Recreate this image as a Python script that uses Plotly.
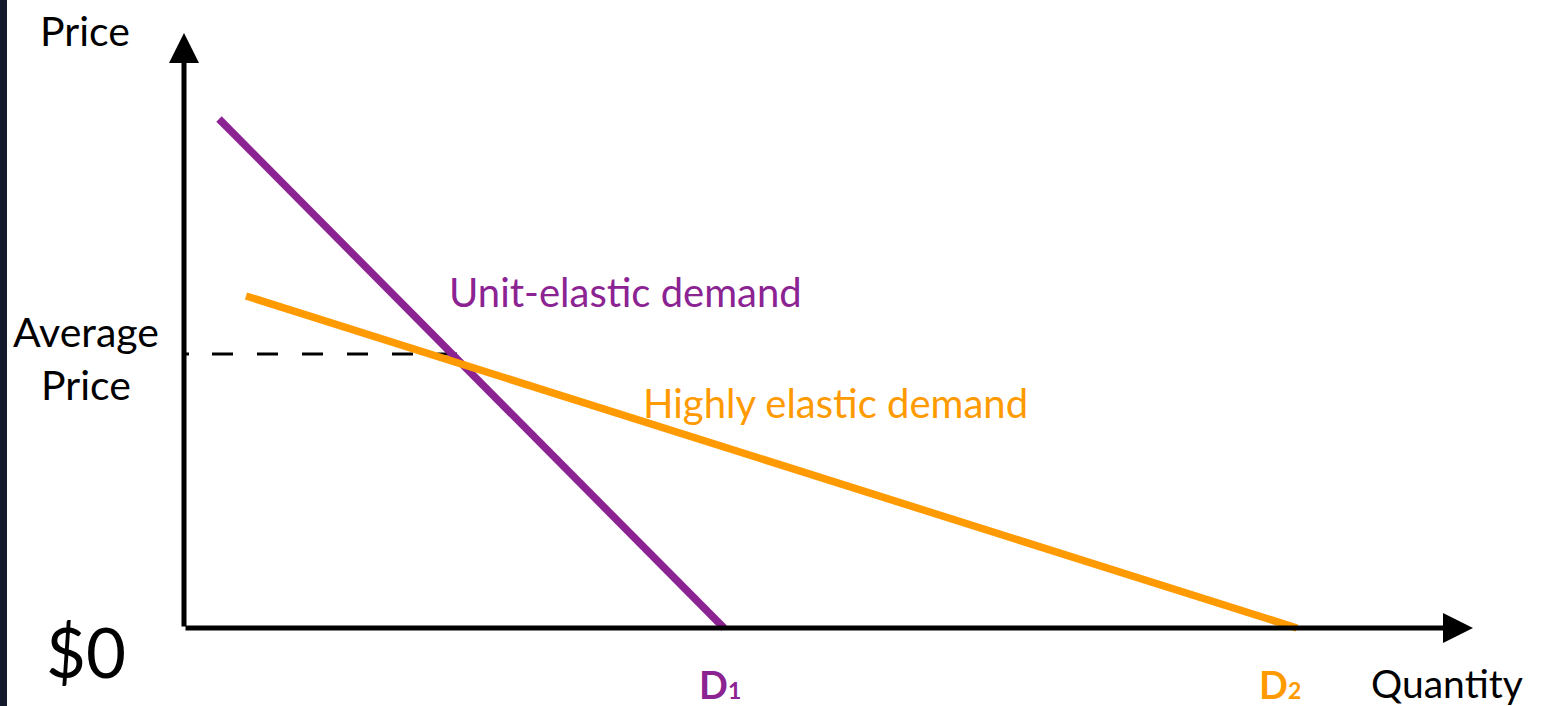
import plotly.graph_objects as go

# Demand schedules (quantity, price) in chart units
unit_q = [3.5, 54.0]
unit_p = [50.9, 0.0]
elastic_q = [6.2, 111.3]
elastic_p = [33.2, 0.0]
avg_price = 27.4
avg_q_end = 27.3

# Axis extents
x_origin, y_origin = 0.0, 0.0
x_tip, y_tip = 128.9, 59.5

PURPLE = "#8C2393"
ORANGE = "#FF9A00"
FONT = "Lato"
NJ = "\u200c"  # keeps "t" and "i" as separate glyphs

fig = go.Figure()

fig.add_trace(go.Scatter(
    x=[x_origin, avg_q_end], y=[avg_price, avg_price], mode="lines",
    line=dict(color="black", width=3,
              dash="5px,23px,21px,24px,21px,24px,21px,24px,21px,24px,21px,24px,21px,24px"),
    hoverinfo="skip", showlegend=False))
fig.add_trace(go.Scatter(
    x=unit_q, y=unit_p, mode="lines", line=dict(color=PURPLE, width=7.5),
    name="Unit-elastic demand", showlegend=False))
fig.add_trace(go.Scatter(
    x=elastic_q, y=elastic_p, mode="lines", line=dict(color=ORANGE, width=7.5),
    name="Highly elastic demand", showlegend=False))

annotations = []
# axes with arrowheads
for tx, ty in [(x_origin, y_tip), (x_tip, y_origin)]:
    annotations.append(dict(
        x=tx, y=ty, ax=x_origin, ay=y_origin, xref="x", yref="y",
        axref="x", ayref="y", text="", showarrow=True, arrowhead=2,
        arrowwidth=5, arrowsize=1.2, arrowcolor="black", standoff=0))

def label(x, y, text, size, color="black", xanchor="center"):
    annotations.append(dict(
        x=x, y=y, xref="x", yref="y", text=text, showarrow=False,
        xanchor=xanchor, yanchor="middle",
        font=dict(family=FONT, size=size, color=color)))

label(-9.9, 59.8, "Price", 41)
label(-9.8, 27.0, "Average<br>Price", 41)
label(-9.8, -2.3, "$0", 69)
label(26.3, 33.6, f"Unit-elas{NJ}tic demand", 40, PURPLE, "left")
label(45.7, 22.5, f"Highly elas{NJ}tic demand", 40, ORANGE, "left")
label(51.3, -5.6, '<b>D<span style="font-size:23px">1</span></b>', 38, PURPLE, "left")
label(107.3, -5.6, '<b>D<span style="font-size:23px">2</span></b>', 38, ORANGE, "left")
label(118.5, -5.45, f"Quan{NJ}ti{NJ}ty", 39, "black", "left")

fig.update_layout(
    width=1545, height=706,
    margin=dict(l=0, r=0, t=0, b=0),
    paper_bgcolor="white", plot_bgcolor="white",
    xaxis=dict(range=[-18.4, 136.1], visible=False, fixedrange=True),
    yaxis=dict(range=[-7.8, 62.8], visible=False, fixedrange=True),
    annotations=annotations,
    shapes=[dict(type="rect", xref="paper", yref="paper", x0=0, x1=7 / 1545,
                 y0=0, y1=1, fillcolor="#141a2c", line=dict(width=0),
                 layer="below")],
)

fig.write_html("out.html")
